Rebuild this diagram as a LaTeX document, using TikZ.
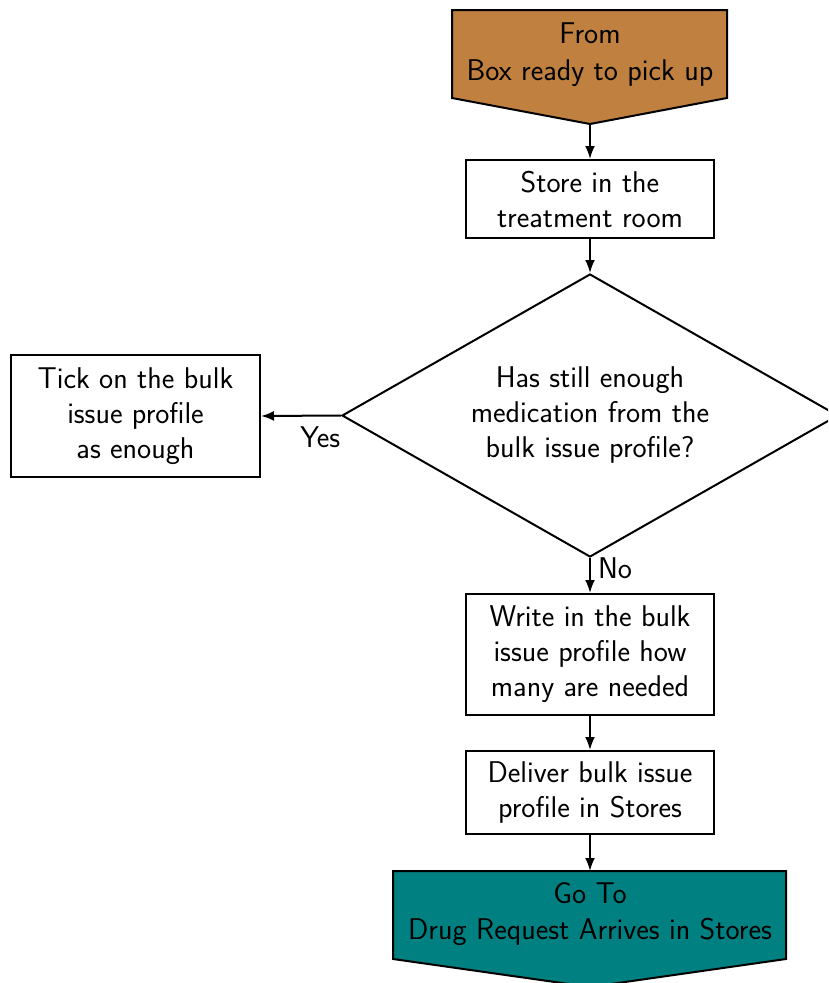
\documentclass[tikz,border=0pt]{standalone}
\usepackage{fontspec}
\usetikzlibrary{arrows.meta,shapes.geometric}
\begin{document}
\begin{tikzpicture}[x=1pt,y=1pt,
  font=\sffamily\fontsize{30}{35}\selectfont,
  line width=2pt,
  stepbox/.style={draw, fill=white, align=center, inner sep=0pt, minimum width=248pt},
  decision/.style={draw, shape=diamond, aspect=1.75, align=center, inner sep=0pt,
    minimum width=496pt, minimum height=283pt},
  flow/.style={-{Latex[length=13pt,width=10pt]}},
  lbl/.style={inner sep=2pt}]
\clip (0,0) rectangle (828,-983);

% off-page connector at the top (entry)
\draw[fill=brown] (452,-10) -- (727,-10) -- (727,-98) -- (590,-124) -- (452,-98) -- cycle;
\node[align=center] (from) at (590,-55) {From\\[2pt]Box ready to pick up};
\coordinate (fromtip) at (590,-124);

% process steps
\node[stepbox, minimum height=78pt] (store) at (590,-199) {Store in the\\treatment room};
\node[decision] (check) at (590,-415.5) {Has still enough\\medication from the\\bulk issue profile?};
\node[stepbox, minimum width=249pt, minimum height=122pt] (tick) at (135.5,-416) {Tick on the bulk\\issue profile\\as enough};
\node[stepbox, minimum height=121pt] (write) at (590,-654.5) {Write in the bulk\\issue profile how\\many are needed};
\node[stepbox, minimum height=83pt] (deliver) at (590,-792.5) {Deliver bulk issue\\profile in Stores};

% off-page connector at the bottom (exit)
\draw[fill=teal] (393,-871) -- (786,-871) -- (786,-959) -- (590,-987) -- (393,-959) -- cycle;
\node[align=center] (goto) at (590,-914) {Go To\\[1pt]Drug Request Arrives in Stores};
\coordinate (gototop) at (590,-871);

% connectors
\draw[flow] (check.west) -- node[lbl, pos=0.26, below=8pt] {Yes} (tick.east);
\draw[flow] (check.south) -- node[lbl, pos=0.3, right=5pt] {No} (write.north);
\draw[flow] (fromtip) -- (store.north);
\draw[flow] (store.south) -- (check.north);
\draw[flow] (write.south) -- (deliver.north);
\draw[flow] (deliver.south) -- (gototop);
\end{tikzpicture}
\end{document}
